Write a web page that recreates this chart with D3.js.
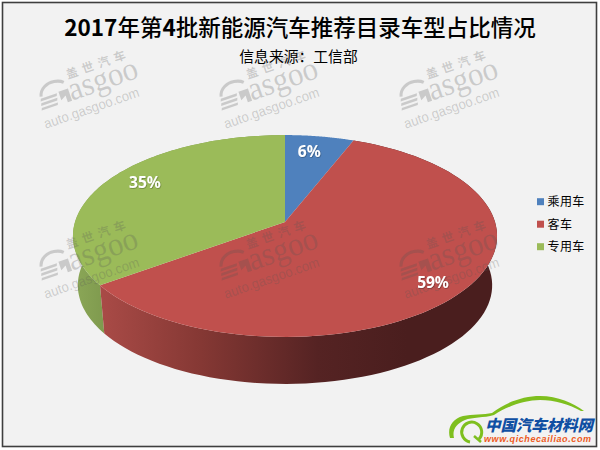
<!DOCTYPE html>
<html><head><meta charset="utf-8">
<script src="https://cdn.jsdelivr.net/npm/d3@7"></script>
<style>html,body{margin:0;padding:0;background:#fff}svg{display:block}text{font-family:"Noto Sans CJK SC","Noto Sans",sans-serif}</style>
</head><body><svg id="c" width="600" height="450"></svg>
<script>
const categories = ["乘用车","客车","专用车"];
const values = [6,59,35];
const labels = ["6%","59%","35%"];
const colors = ["#4f81bd","#c0504d","#9bbb59"];
const titleParts = [["2017",1],["年第",0],["4",1],["批新能源汽车推荐目录车型占比情况",0]];
const sourceText = "信息来源：工信部";
const wmPositions = [[91,91],[271,91],[451,91],[91,261],[271,261],[451,261]];

const svg = d3.select("#c");
svg.append("rect").attr("x",0).attr("y",0).attr("width",600).attr("height",450).attr("fill","#fff");
svg.append("rect").attr("x",2.5).attr("y",2.5).attr("width",594).attr("height",444).attr("fill","#f2f2f2").attr("stroke","#3f3f3f").attr("stroke-width",1.6);

const defs = svg.append("defs");
const gr = defs.append("linearGradient").attr("id","wallR").attr("gradientUnits","userSpaceOnUse").attr("x1",104).attr("x2",492).attr("y1",0).attr("y2",0);
[[0,"#a84a46"],[0.25,"#853834"],[0.55,"#552323"],[0.78,"#4a1e1e"],[1,"#4a1e1e"]].forEach(s=>gr.append("stop").attr("offset",s[0]).attr("stop-color",s[1]));
const gg = defs.append("linearGradient").attr("id","wallG").attr("gradientUnits","userSpaceOnUse").attr("x1",72).attr("x2",104).attr("y1",0).attr("y2",0);
[[0,"#8ca858"],[1,"#7f9a4e"]].forEach(s=>gg.append("stop").attr("offset",s[0]).attr("stop-color",s[1]));
const sh = defs.append("filter").attr("id","tsh").attr("x","-20%").attr("y","-20%").attr("width","140%").attr("height","140%");
sh.append("feDropShadow").attr("dx",0.6).attr("dy",0.6).attr("stdDeviation",0.5).attr("flood-color","#000").attr("flood-opacity",0.4);

// perspective pie projection
const cx=285, apexY=222, A=210, B=99, k=0.1387;
const proj=(t,s=1,dy=0)=>{const u=Math.sin(t),v=Math.cos(t),w=1/(1+k*v);return [cx+A*s*u*w,apexY+dy-B*s*v*w];};
const wallS=0.977, wallDy=49.6;
const pie=d3.pie().sort(null).value(d=>d)(values);
const line=d3.line();
const arcPts=(a,b,s,dy)=>d3.range(0,91).map(i=>proj(a+(b-a)*i/90,s,dy));

const wallFill={1:"url(#wallR)",2:"url(#wallG)"};
[2,1].forEach(i=>{
  const p=pie[i];
  const pts=arcPts(p.startAngle,p.endAngle,1,0).concat(arcPts(p.endAngle,p.startAngle,wallS,wallDy));
  svg.append("path").attr("d",line(pts)+"Z").attr("fill",wallFill[i]);
});
pie.forEach((p,i)=>{
  const pts=[[cx,apexY]].concat(arcPts(p.startAngle,p.endAngle,1,0));
  svg.append("path").attr("d",line(pts)+"Z").attr("fill",colors[i]);
});

// watermarks
function watermark(x,y){
  const g=svg.append("g").attr("transform",`translate(${x},${y}) rotate(-19)`).attr("fill","#555").attr("fill-opacity",0.25);
  g.append("text").attr("x",-18).attr("y",-19).attr("font-size",12).attr("font-weight",700).attr("letter-spacing",4.7).text("盖世汽车");
  g.append("path").attr("fill","none").attr("stroke","#555").attr("stroke-opacity",0.25).attr("stroke-width",3)
    .attr("d","M-49,-11C-47,-19 -39,-22 -32,-21C-28,-20.5 -25,-19 -23,-17");
  g.append("path").attr("d","M-50,-9H-33L-34,-6.5H-51ZM-51,-4.5H-34L-35,-2H-52ZM-52,0H-35L-36,2.5H-53ZM-31,-10H-21V3H-25.5V-4L-31,-1Z");
  g.append("text").attr("x",-21).attr("y",3).attr("font-size",33).attr("textLength",72).attr("lengthAdjust","spacingAndGlyphs").style("font-family","'Liberation Serif'").text("asgoo");
  g.append("text").attr("x",-55).attr("y",21).attr("font-size",14).attr("textLength",100).attr("lengthAdjust","spacingAndGlyphs").style("font-family","'Liberation Sans'").text("auto.gasgoo.com");
}
wmPositions.forEach(p=>watermark(p[0],p[1]));

// data labels: placed at the slice mid-angle, with small nudges in degrees
const labelNudge=[-1.6,3.3,4.2];
const labelRadius=[0.82,0.85,0.836];
labels.forEach((t,i)=>{
  const m=(pie[i].startAngle+pie[i].endAngle)/2+labelNudge[i]*Math.PI/180;
  const q=proj(m,labelRadius[i],0);
  svg.append("text").attr("x",q[0]).attr("y",q[1]).attr("dy","0.36em").attr("text-anchor","middle").attr("font-size",15.5).attr("font-weight",700).attr("fill","#fff").attr("filter","url(#tsh)").style("font-family","'Noto Sans'").text(t);
});

// title
const ttl=svg.append("text").attr("x",300).attr("y",36).attr("text-anchor","middle").attr("font-size",22.5).attr("fill","#000");
titleParts.forEach(p=>ttl.append("tspan").attr("font-weight",p[1]?700:500).text(p[0]));
svg.append("text").attr("x",298.5).attr("y",62).attr("text-anchor","middle").attr("font-size",14.8).attr("fill","#000").text(sourceText);

// legend
categories.forEach((c,i)=>{
  const y=201.7+i*22.5;
  svg.append("rect").attr("x",537).attr("y",y-3.5).attr("width",7).attr("height",7).attr("fill",colors[i]);
  svg.append("text").attr("x",547.5).attr("y",y+4.5).attr("font-size",12).attr("fill","#000").attr("letter-spacing",0.4).text(c);
});

// logo
const logo=svg.append("g");
logo.append("path").attr("d","M450 438C447 428 452 419 463 416C472 414 484 415 492 413C506 402 524 396 540 396C558 396 573 403 584 411L581 411C568 404 555 400 540 400C525 400 508 406 494 415C484 418 472 417 465 420C456 424 452 430 454 438Z").attr("fill","#7ebf1e");
logo.append("path").attr("d","M479 439A10 10 0 1 0 470 442").attr("fill","none").attr("stroke","#7ebf1e").attr("stroke-width",3);
logo.append("path").attr("d","M474 436L481 442").attr("fill","none").attr("stroke","#7ebf1e").attr("stroke-width",2.5);
logo.append("text").attr("x",485).attr("y",431).attr("font-size",15.5).attr("font-weight",900).attr("font-style","italic").attr("fill","#0f4fa3").attr("textLength",108).text("中国汽车材料网");
logo.append("text").attr("x",484).attr("y",441.5).attr("font-size",9).attr("font-weight",700).attr("font-style","italic").attr("fill","#ee5a1c").attr("textLength",107).style("font-family","'Liberation Sans'").text("www.qichecailiao.com");
</script></body></html>
